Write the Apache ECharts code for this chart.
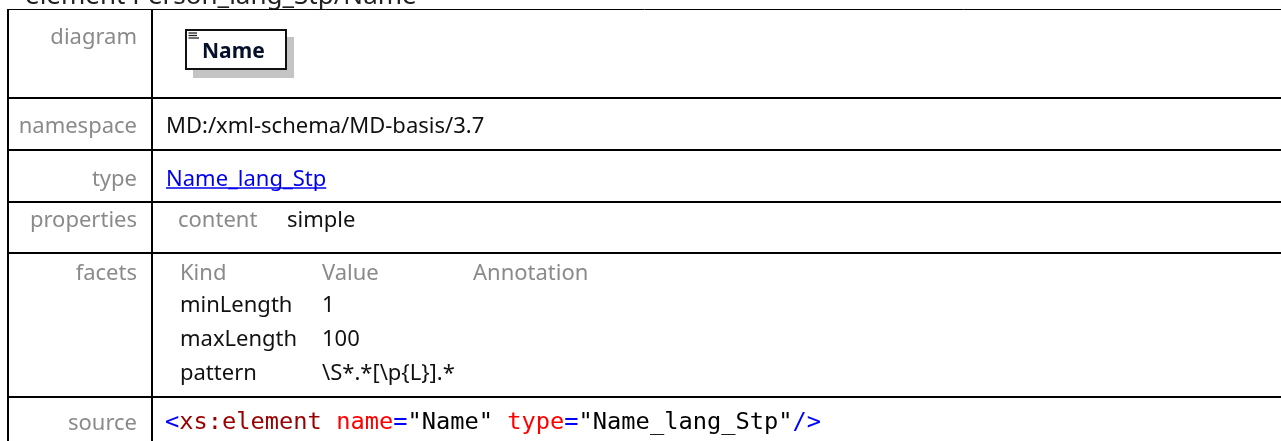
<!DOCTYPE html>
<html>
<head>
<meta charset="utf-8">
<script src="https://cdn.jsdelivr.net/npm/echarts@6/dist/echarts.min.js"></script>
<style>
html,body{margin:0;padding:0;background:#fff;}
#chart{width:1281px;height:441px;}
</style>
</head>
<body>
<div id="chart"></div>
<script>
// ---- content (data) ----
const titleText = 'element Person_lang_Stp/Name';
const rowLabels = ['diagram', 'namespace', 'type', 'properties', 'facets', 'source'];
const diagramName = 'Name';
const namespaceValue = 'MD:/xml-schema/MD-basis/3.7';
const typeValue = 'Name_lang_Stp';
const propertyNames = ['content'];
const propertyValues = ['simple'];
const facetHeaders = ['Kind', 'Value', 'Annotation'];
const facetKinds = ['minLength', 'maxLength', 'pattern'];
const facetValues = ['1', '100', '\\S*.*[\\p{L}].*'];
const sourceTokens = ['<', 'xs:element', ' ', 'name', '=', '"Name"', ' ', 'type', '=', '"Name_lang_Stp"', '/>'];
const sourceKinds  = ['p',  'e',          's', 'a',    'p', 'v',      's', 'a',    'p', 'v',               'p'];

// ---- layout / style ----
const SANS = '"Noto Sans", "Open Sans", sans-serif';
const MONO = '"DejaVu Sans Mono", "Liberation Mono", monospace';
const FS = 22;
const rowLines = [9.5, 98, 150, 202, 253, 397];
const rowLineWidths = [1, 2, 2, 2, 2, 2];
const labelBaselines = [44, 133, 186, 227, 280, 430];
const labelRight = 137;
const valueX = 166;
const GRAY = '#8a8a8a';
const DARK = '#111111';
const W = 1281, H = 441;

function mid(baseline, size) { return baseline - 0.29 * size; }
function measure(text, font) {
  const c = document.createElement('canvas').getContext('2d');
  c.font = font; return c.measureText(text).width;
}
function txt(text, x, baseline, opts) {
  opts = opts || {};
  const size = opts.size || FS;
  return {
    type: 'text', x: x, y: mid(baseline, size), silent: true,
    style: {
      text: text,
      font: (opts.weight || 'normal') + ' ' + size + 'px ' + (opts.family || SANS),
      fill: opts.color || DARK,
      align: opts.align || 'left',
      verticalAlign: 'middle'
    }
  };
}

const g = [];
// title (partly outside the view)
g.push(txt(titleText, 25, 4, {size: 26, color: '#222'}));

// horizontal rules
rowLines.forEach(function (y, i) {
  g.push({type: 'line', silent: true,
    shape: {x1: 7, y1: y, x2: W + 5, y2: y},
    style: {stroke: '#000', lineWidth: rowLineWidths[i]}});
});
// vertical rules
[8, 152].forEach(function (x) {
  g.push({type: 'line', silent: true,
    shape: {x1: x, y1: 9, x2: x, y2: H + 5},
    style: {stroke: '#000', lineWidth: 2}});
});

// row labels
rowLabels.forEach(function (lab, i) {
  g.push(txt(lab, labelRight, labelBaselines[i], {color: GRAY, align: 'right'}));
});

// diagram box
g.push({type: 'rect', silent: true, shape: {x: 193, y: 37, width: 101, height: 41},
  style: {fill: '#c4c4c4'}});
g.push({type: 'rect', silent: true, shape: {x: 186, y: 30, width: 100, height: 39},
  style: {fill: '#fff', stroke: '#111', lineWidth: 2}});
[33, 35.5, 38].forEach(function (y, i) {
  g.push({type: 'line', silent: true, shape: {x1: 188.5, y1: y, x2: i === 2 ? 199 : 197, y2: y},
    style: {stroke: '#222', lineWidth: 1.3}});
});
g.push(txt(diagramName, 202, 58, {size: 21, weight: 'bold', color: '#06102a'}));

// namespace
g.push(txt(namespaceValue, valueX, labelBaselines[1]));
// type (link)
g.push(txt(typeValue, valueX, labelBaselines[2], {color: '#0000ee'}));
const linkW = measure(typeValue, FS + 'px ' + SANS);
g.push({type: 'line', silent: true,
  shape: {x1: valueX, y1: labelBaselines[2] + 2, x2: valueX + linkW, y2: labelBaselines[2] + 2},
  style: {stroke: '#0000ee', lineWidth: 1.5}});

// properties
propertyNames.forEach(function (p, i) {
  g.push(txt(p, 178, labelBaselines[3], {color: GRAY}));
  g.push(txt(propertyValues[i], 287, labelBaselines[3]));
});

// facets
const facetCols = [180, 322, 473];
facetHeaders.forEach(function (h, i) {
  g.push(txt(h, facetCols[i], labelBaselines[4], {color: GRAY}));
});
const facetBaselines = [312, 346, 380];
facetKinds.forEach(function (k, i) {
  g.push(txt(k, facetCols[0], facetBaselines[i]));
  g.push(txt(facetValues[i], facetCols[1], facetBaselines[i]));
});

// source (rich text)
const richMap = {p: '#0000ff', e: '#990000', a: '#ff0000', v: '#000000', s: '#000000'};
const srcSize = 23.7;
const rich = {};
Object.keys(richMap).forEach(function (k) {
  rich[k] = {fill: richMap[k], font: srcSize + 'px ' + MONO};
});
const richText = sourceTokens.map(function (t, i) {
  return '{' + sourceKinds[i] + '|' + t + '}';
}).join('');
g.push({type: 'text', x: 165, y: mid(430, srcSize), silent: true,
  style: {text: richText, rich: rich, font: srcSize + 'px ' + MONO, align: 'left', verticalAlign: 'middle'}});

const chart = echarts.init(document.getElementById('chart'), null, {renderer: 'canvas', width: W, height: H});
chart.setOption({
  backgroundColor: '#ffffff',
  animation: false,
  graphic: {elements: g}
});
</script>
</body>
</html>
